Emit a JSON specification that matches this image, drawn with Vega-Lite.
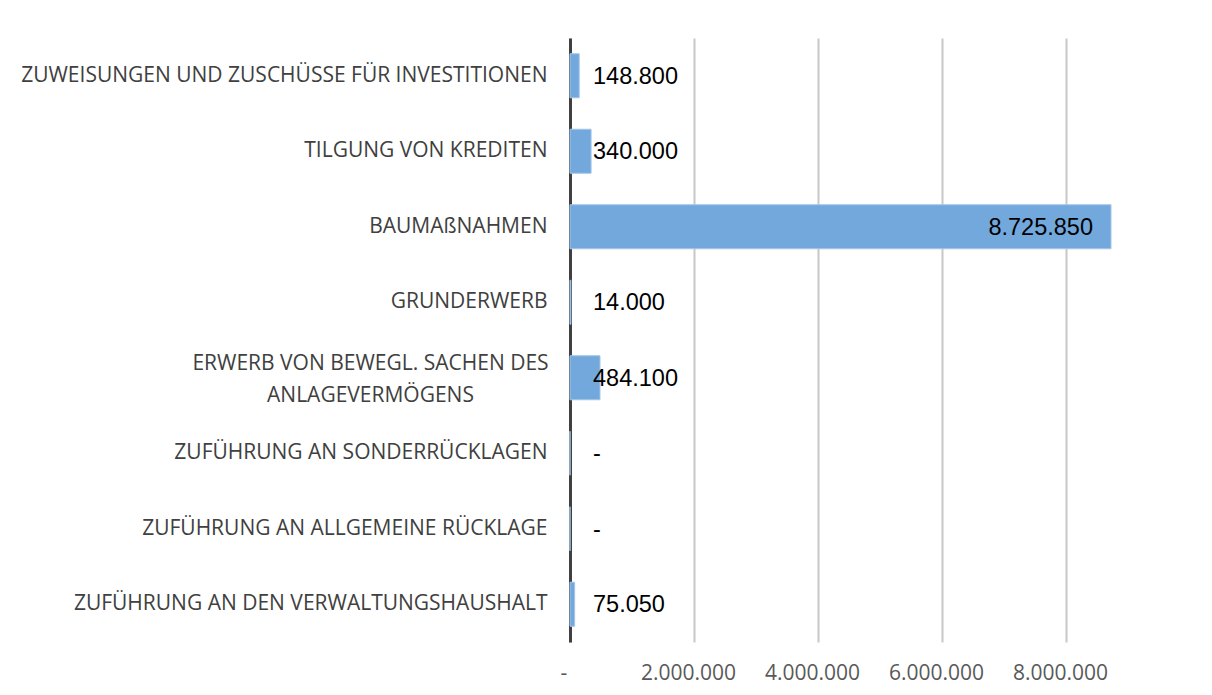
{
  "$schema": "https://vega.github.io/schema/vega-lite/v6.json",
  "autosize": "none",
  "padding": {"left": 570, "top": 38, "right": 84, "bottom": 53},
  "width": 558,
  "height": 604,
  "background": "white",
  "config": {
    "locale": {"number": {"decimal": ",", "thousands": ".", "grouping": [3], "currency": ["", " €"]}},
    "view": {"stroke": null},
    "font": "Open Sans"
  },
  "data": {"values": [
    {"kategorie": "ZUWEISUNGEN UND ZUSCHÜSSE FÜR INVESTITIONEN", "betrag": 148800},
    {"kategorie": "TILGUNG VON KREDITEN", "betrag": 340000},
    {"kategorie": "BAUMAßNAHMEN", "betrag": 8725850},
    {"kategorie": "GRUNDERWERB", "betrag": 14000},
    {"kategorie": "ERWERB VON BEWEGL. SACHEN DES ANLAGEVERMÖGENS", "betrag": 484100},
    {"kategorie": "ZUFÜHRUNG AN SONDERRÜCKLAGEN", "betrag": 0},
    {"kategorie": "ZUFÜHRUNG AN ALLGEMEINE RÜCKLAGE", "betrag": 0},
    {"kategorie": "ZUFÜHRUNG AN DEN VERWALTUNGSHAUSHALT", "betrag": 75050}
  ]},
  "encoding": {
    "y": {
      "field": "kategorie", "type": "nominal", "sort": null,
      "scale": {"paddingInner": 0.417, "paddingOuter": 0.2085},
      "axis": {
        "title": null, "ticks": false, "tickSize": 0,
        "domainColor": "#404040", "domainWidth": 3,
        "labelFont": "Open Sans", "labelFontSize": 21, "labelColor": "#404040",
        "labelLimit": 0, "labelLineHeight": 32,
        "labelExpr": "datum.value == 'ERWERB VON BEWEGL. SACHEN DES ANLAGEVERMÖGENS' ? ['ERWERB VON BEWEGL. SACHEN DES', 'ANLAGEVERMÖGENS'] : datum.value",
        "labelAlign": {"condition": {"test": "datum.value == 'ERWERB VON BEWEGL. SACHEN DES ANLAGEVERMÖGENS'", "value": "center"}, "value": "right"},
        "labelPadding": {"condition": {"test": "datum.value == 'ERWERB VON BEWEGL. SACHEN DES ANLAGEVERMÖGENS'", "value": 200}, "value": 23},
        "labelOffset": {"condition": {"test": "datum.value == 'ERWERB VON BEWEGL. SACHEN DES ANLAGEVERMÖGENS'", "value": -14}, "value": 0}
      }
    },
    "x": {
      "field": "betrag", "type": "quantitative",
      "scale": {"domain": [0, 9000000], "nice": false, "zero": true},
      "axis": {
        "title": null, "values": [0, 2000000, 4000000, 6000000, 8000000],
        "labelExpr": "datum.value == 0 ? '-' : format(datum.value, ',')",
        "domain": false, "ticks": false, "grid": true,
        "gridColor": "#c8c8c8", "gridWidth": 2,
        "labelFont": "Open Sans", "labelFontSize": 21, "labelColor": "#595959",
        "labelPadding": 20,
        "labelOffset": {"condition": {"test": "datum.value == 0", "value": -10}, "value": -6}
      }
    }
  },
  "layer": [
    {
      "mark": {"type": "bar", "color": "#72a8dc", "stroke": "#a3c6e8", "strokeWidth": 1}
    },
    {
      "transform": [{"filter": "datum.betrag < 1000000"}],
      "mark": {"type": "text", "align": "left", "baseline": "middle", "dx": 23, "dy": 1, "font": "Liberation Sans", "fontSize": 23.5, "color": "black"},
      "encoding": {
        "x": {"datum": 0, "type": "quantitative"},
        "text": {"condition": {"test": "datum.betrag === 0", "value": "-"}, "field": "betrag", "type": "quantitative", "format": ","}
      }
    },
    {
      "transform": [{"filter": "datum.betrag >= 1000000"}],
      "mark": {"type": "text", "align": "right", "baseline": "middle", "dx": -18, "dy": 1, "font": "Liberation Sans", "fontSize": 23.5, "color": "black"},
      "encoding": {
        "text": {"field": "betrag", "type": "quantitative", "format": ","}
      }
    }
  ]
}
